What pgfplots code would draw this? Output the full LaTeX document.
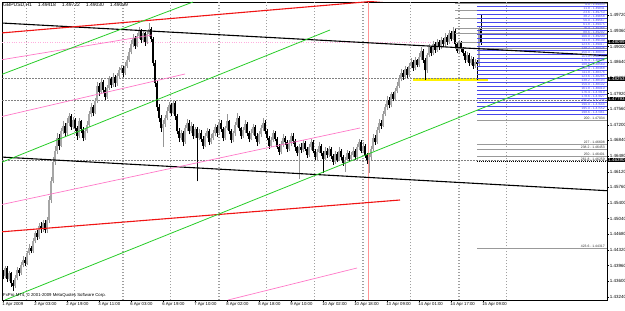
\documentclass[border=0pt]{standalone}
\usepackage{pgfplots}
\pgfplotsset{compat=1.18}
\usepackage{pgfplotstable}
\usepackage{fontspec}
\setmainfont{Liberation Sans}
\definecolor{mtblue}{RGB}{70,70,235}
\definecolor{mtgreen}{RGB}{40,205,40}
\definecolor{mtred}{RGB}{240,20,20}
\definecolor{mtpink}{RGB}{255,120,200}
\definecolor{mtvline}{RGB}{255,150,150}
\definecolor{mtup}{RGB}{150,150,150}
\newcommand\tf{\fontsize{4.3}{4.8}\selectfont}
\newcommand\yf{\fontsize{4.5}{5}\selectfont}

\pgfplotstableread{
i o h l c
0 1.4380 1.4386 1.4365 1.4372
1 1.4372 1.4396 1.4368 1.4390
2 1.4390 1.4395 1.4358 1.4366
3 1.4366 1.4384 1.4360 1.4378
4 1.4378 1.4382 1.4348 1.4355
5 1.4355 1.4362 1.4338 1.4350
6 1.4350 1.4374 1.4344 1.4368
7 1.4368 1.4392 1.4362 1.4385
8 1.4385 1.4390 1.4372 1.4379
9 1.4379 1.4404 1.4375 1.4398
10 1.4398 1.4418 1.4392 1.4410
11 1.4410 1.4415 1.4395 1.4402
12 1.4402 1.4430 1.4398 1.4425
13 1.4425 1.4445 1.4420 1.4437
14 1.4437 1.4442 1.4424 1.4430
15 1.4430 1.4460 1.4426 1.4452
16 1.4452 1.4476 1.4448 1.4470
17 1.4470 1.4478 1.4455 1.4462
18 1.4462 1.4494 1.4458 1.4488
19 1.4488 1.4496 1.4472 1.4480
20 1.4480 1.4502 1.4474 1.4495
21 1.4495 1.4500 1.4470 1.4478
22 1.4478 1.4508 1.4472 1.4500
23 1.4500 1.4556 1.4495 1.4548
24 1.4548 1.4600 1.4540 1.4590
25 1.4590 1.4645 1.4585 1.4635
26 1.4635 1.4672 1.4628 1.4660
27 1.4660 1.4700 1.4652 1.4690
28 1.4690 1.4698 1.4662 1.4672
29 1.4672 1.4712 1.4668 1.4705
30 1.4705 1.4728 1.4698 1.4718
31 1.4718 1.4725 1.4692 1.4700
32 1.4700 1.4735 1.4695 1.4725
33 1.4725 1.4748 1.4718 1.4740
34 1.4740 1.4745 1.4708 1.4715
35 1.4715 1.4738 1.4710 1.4730
36 1.4730 1.4735 1.4705 1.4712
37 1.4712 1.4718 1.4686 1.4695
38 1.4695 1.4735 1.4690 1.4728
39 1.4728 1.4732 1.4702 1.4710
40 1.4710 1.4715 1.4682 1.4690
41 1.4690 1.4712 1.4685 1.4705
42 1.4705 1.4728 1.4700 1.4720
43 1.4720 1.4752 1.4715 1.4745
44 1.4745 1.4770 1.4738 1.4760
45 1.4760 1.4766 1.4740 1.4748
46 1.4748 1.4782 1.4744 1.4775
47 1.4775 1.4818 1.4770 1.4810
48 1.4810 1.4815 1.4786 1.4795
49 1.4795 1.4826 1.4790 1.4818
50 1.4818 1.4822 1.4792 1.4800
51 1.4800 1.4806 1.4778 1.4785
52 1.4785 1.4812 1.4780 1.4805
53 1.4805 1.4832 1.4800 1.4825
54 1.4825 1.4830 1.4805 1.4812
55 1.4812 1.4838 1.4808 1.4830
56 1.4830 1.4835 1.4808 1.4815
57 1.4815 1.4840 1.4810 1.4832
58 1.4832 1.4852 1.4826 1.4845
59 1.4845 1.4858 1.4838 1.4850
60 1.4850 1.4855 1.4830 1.4838
61 1.4838 1.4864 1.4834 1.4856
62 1.4856 1.4878 1.4850 1.4870
63 1.4870 1.4896 1.4865 1.4888
64 1.4888 1.4914 1.4882 1.4905
65 1.4905 1.4928 1.4898 1.4920
66 1.4920 1.4925 1.4895 1.4902
67 1.4902 1.4932 1.4898 1.4925
68 1.4925 1.4944 1.4918 1.4935
69 1.4935 1.4940 1.4908 1.4915
70 1.4915 1.4938 1.4910 1.4930
71 1.4930 1.4934 1.4902 1.4910
72 1.4910 1.4936 1.4905 1.4928
73 1.4928 1.4955 1.4922 1.4940
74 1.4940 1.4945 1.4910 1.4918
75 1.4918 1.4922 1.4855 1.4862
76 1.4862 1.4868 1.4808 1.4815
77 1.4815 1.4820 1.4752 1.4760
78 1.4760 1.4768 1.4726 1.4735
79 1.4735 1.4742 1.4704 1.4712
80 1.4712 1.4730 1.4670 1.4722
81 1.4722 1.4742 1.4716 1.4735
82 1.4735 1.4760 1.4730 1.4752
83 1.4752 1.4772 1.4746 1.4765
84 1.4765 1.4770 1.4740 1.4748
85 1.4748 1.4778 1.4744 1.4770
86 1.4770 1.4774 1.4732 1.4740
87 1.4740 1.4745 1.4698 1.4705
88 1.4705 1.4712 1.4680 1.4690
89 1.4690 1.4708 1.4684 1.4700
90 1.4700 1.4705 1.4672 1.4680
91 1.4680 1.4720 1.4676 1.4712
92 1.4712 1.4734 1.4706 1.4725
93 1.4725 1.4730 1.4698 1.4705
94 1.4705 1.4726 1.4700 1.4718
95 1.4718 1.4722 1.4688 1.4695
96 1.4695 1.4716 1.4690 1.4710
97 1.4710 1.4714 1.4590 1.4690
98 1.4690 1.4710 1.4684 1.4702
99 1.4702 1.4708 1.4680 1.4688
100 1.4688 1.4694 1.4665 1.4672
101 1.4672 1.4702 1.4668 1.4695
102 1.4695 1.4712 1.4690 1.4705
103 1.4705 1.4710 1.4674 1.4680
104 1.4680 1.4698 1.4675 1.4690
105 1.4690 1.4708 1.4684 1.4700
106 1.4700 1.4722 1.4695 1.4715
107 1.4715 1.4720 1.4692 1.4700
108 1.4700 1.4732 1.4696 1.4725
109 1.4725 1.4730 1.4704 1.4710
110 1.4710 1.4714 1.4682 1.4690
111 1.4690 1.4718 1.4686 1.4712
112 1.4712 1.4745 1.4708 1.4728
113 1.4728 1.4732 1.4698 1.4705
114 1.4705 1.4710 1.4678 1.4685
115 1.4685 1.4706 1.4680 1.4700
116 1.4700 1.4726 1.4695 1.4720
117 1.4720 1.4748 1.4714 1.4735
118 1.4735 1.4740 1.4705 1.4712
119 1.4712 1.4716 1.4688 1.4695
120 1.4695 1.4715 1.4690 1.4708
121 1.4708 1.4730 1.4702 1.4722
122 1.4722 1.4726 1.4694 1.4700
123 1.4700 1.4706 1.4680 1.4688
124 1.4688 1.4710 1.4684 1.4702
125 1.4702 1.4722 1.4696 1.4715
126 1.4715 1.4720 1.4688 1.4695
127 1.4695 1.4700 1.4672 1.4680
128 1.4680 1.4705 1.4675 1.4698
129 1.4698 1.4720 1.4692 1.4712
130 1.4712 1.4735 1.4706 1.4725
131 1.4725 1.4730 1.4698 1.4705
132 1.4705 1.4710 1.4684 1.4690
133 1.4690 1.4695 1.4665 1.4672
134 1.4672 1.4692 1.4668 1.4685
135 1.4685 1.4708 1.4680 1.4700
136 1.4700 1.4705 1.4682 1.4688
137 1.4688 1.4692 1.4664 1.4670
138 1.4670 1.4675 1.4650 1.4658
139 1.4658 1.4682 1.4652 1.4675
140 1.4675 1.4698 1.4670 1.4690
141 1.4690 1.4695 1.4674 1.4680
142 1.4680 1.4685 1.4658 1.4665
143 1.4665 1.4685 1.4660 1.4678
144 1.4678 1.4702 1.4672 1.4695
145 1.4695 1.4700 1.4676 1.4682
146 1.4682 1.4688 1.4660 1.4668
147 1.4668 1.4672 1.4648 1.4655
148 1.4655 1.4676 1.4595 1.4670
149 1.4670 1.4678 1.4655 1.4662
150 1.4662 1.4685 1.4658 1.4678
151 1.4678 1.4682 1.4660 1.4665
152 1.4665 1.4670 1.4644 1.4650
153 1.4650 1.4675 1.4646 1.4668
154 1.4668 1.4688 1.4662 1.4680
155 1.4680 1.4684 1.4654 1.4660
156 1.4660 1.4665 1.4638 1.4645
157 1.4645 1.4665 1.4640 1.4658
158 1.4658 1.4680 1.4654 1.4672
159 1.4672 1.4676 1.4648 1.4655
160 1.4655 1.4660 1.4610 1.4642
161 1.4642 1.4668 1.4638 1.4660
162 1.4660 1.4666 1.4644 1.4650
163 1.4650 1.4672 1.4646 1.4665
164 1.4665 1.4670 1.4642 1.4648
165 1.4648 1.4652 1.4628 1.4635
166 1.4635 1.4660 1.4630 1.4652
167 1.4652 1.4658 1.4634 1.4640
168 1.4640 1.4668 1.4636 1.4660
169 1.4660 1.4665 1.4640 1.4645
170 1.4645 1.4650 1.4626 1.4632
171 1.4632 1.4646 1.4612 1.4640
172 1.4640 1.4662 1.4636 1.4655
173 1.4655 1.4660 1.4636 1.4642
174 1.4642 1.4658 1.4638 1.4650
175 1.4650 1.4668 1.4645 1.4660
176 1.4660 1.4665 1.4638 1.4645
177 1.4645 1.4675 1.4640 1.4668
178 1.4668 1.4688 1.4662 1.4680
179 1.4680 1.4685 1.4654 1.4660
180 1.4660 1.4680 1.4655 1.4672
181 1.4672 1.4676 1.4644 1.4650
182 1.4650 1.4655 1.4630 1.4638
183 1.4638 1.4652 1.4610 1.4645
184 1.4645 1.4672 1.4640 1.4665
185 1.4665 1.4698 1.4660 1.4690
186 1.4690 1.4696 1.4674 1.4680
187 1.4680 1.4716 1.4676 1.4708
188 1.4708 1.4734 1.4702 1.4725
189 1.4725 1.4732 1.4710 1.4718
190 1.4718 1.4752 1.4714 1.4745
191 1.4745 1.4768 1.4740 1.4760
192 1.4760 1.4786 1.4755 1.4778
193 1.4778 1.4784 1.4758 1.4765
194 1.4765 1.4796 1.4760 1.4790
195 1.4790 1.4795 1.4774 1.4780
196 1.4780 1.4805 1.4776 1.4798
197 1.4798 1.4818 1.4792 1.4810
198 1.4810 1.4834 1.4805 1.4825
199 1.4825 1.4848 1.4820 1.4840
200 1.4840 1.4846 1.4824 1.4830
201 1.4830 1.4855 1.4826 1.4848
202 1.4848 1.4852 1.4828 1.4835
203 1.4835 1.4862 1.4830 1.4855
204 1.4855 1.4874 1.4850 1.4865
205 1.4865 1.4870 1.4844 1.4850
206 1.4850 1.4875 1.4846 1.4868
207 1.4868 1.4872 1.4852 1.4858
208 1.4858 1.4884 1.4854 1.4875
209 1.4875 1.4898 1.4870 1.4890
210 1.4890 1.4895 1.4862 1.4870
211 1.4870 1.4874 1.4824 1.4845
212 1.4845 1.4886 1.4840 1.4880
213 1.4880 1.4906 1.4875 1.4898
214 1.4898 1.4902 1.4878 1.4885
215 1.4885 1.4912 1.4880 1.4905
216 1.4905 1.4910 1.4886 1.4892
217 1.4892 1.4918 1.4888 1.4910
218 1.4910 1.4915 1.4892 1.4898
219 1.4898 1.4922 1.4894 1.4915
220 1.4915 1.4920 1.4898 1.4905
221 1.4905 1.4930 1.4900 1.4922
222 1.4922 1.4926 1.4904 1.4910
223 1.4910 1.4938 1.4906 1.4930
224 1.4930 1.4935 1.4912 1.4918
225 1.4918 1.4946 1.4914 1.4935
226 1.4935 1.4940 1.4898 1.4905
227 1.4905 1.4910 1.4884 1.4890
228 1.4890 1.4915 1.4886 1.4908
229 1.4908 1.4912 1.4888 1.4895
230 1.4895 1.4900 1.4878 1.4885
231 1.4885 1.4890 1.4862 1.4870
232 1.4870 1.4888 1.4865 1.4880
233 1.4880 1.4884 1.4856 1.4862
234 1.4862 1.4878 1.4858 1.4872
235 1.4872 1.4876 1.4848 1.4855
236 1.4855 1.4872 1.4850 1.4865
237 1.4865 1.4870 1.4824 1.4860
238 1.4860 1.4945 1.4852 1.4940
239 1.4942 1.4972 1.4903 1.4910
}\bars

\pgfplotsset{candle/.style={only marks, mark=text, text mark={},
  restrict x to domain=-1:400,
  error bars/.cd, y dir=plus, y explicit, error mark=none}}

\begin{document}
\begin{tikzpicture}[x=1bp,y=1bp]
\fill[white] (-2,-10) rectangle (623,300);
\useasboundingbox (-2,-10) rectangle (623,300);
\begin{axis}[
  at={(0,0)}, anchor=south west,
  scale only axis, width=605bp, height=298bp,
  xmin=-0.5, xmax=302, ymin=1.4317, ymax=1.50024,
  axis line style={line width=0.5bp, black},
  xtick pos=left, ytick pos=right, yticklabel pos=right,
  tick align=outside, major tick length=2bp,
  tick style={line width=0.4bp, black},
  xtick={0,16,...,240},
  xticklabels={1 Apr 2009,2 Apr 03:00,2 Apr 19:00,3 Apr 11:00,6 Apr 03:00,6 Apr 19:00,7 Apr 10:00,8 Apr 02:00,8 Apr 18:00,9 Apr 10:00,10 Apr 02:00,10 Apr 18:00,13 Apr 09:00,14 Apr 01:00,14 Apr 17:00,15 Apr 09:00},
  xticklabel style={font=\tf, anchor=north west, xshift=-1.5bp, inner sep=0.6bp},
  ytick={1.4324,1.4360,1.4396,1.4432,1.4468,1.4504,1.4540,1.4576,1.4612,1.4648,1.4684,1.4720,1.4756,1.4792,1.4828,1.4864,1.4900,1.4936,1.4972},
  yticklabel style={font=\yf, anchor=west, inner sep=0.6bp,
    /pgf/number format/.cd, fixed, fixed zerofill, precision=5, 1000 sep={}},
  /pgf/number format/assume math mode=true,
  extra x ticks={11.5,35.5,59.5,60.2,83.5,107.5,108.2,131.5,155.5,179.5,180.2,203.5,227.5,228.2,251.5},
  extra x tick labels={},
  extra x tick style={grid=major, major tick length=0pt,
    major grid style={dash pattern=on 1.5bp off 1.5bp, gray!75, line width=0.4bp}},
]
% horizontal level lines
\addplot[mtpink!60, dotted, line width=0.4bp] coordinates {(-0.5,1.4910) (302,1.4910)};
\addplot[yellow, line width=3bp] coordinates {(205,1.4824) (242.5,1.4824)};
\addplot[gray, dash pattern=on 1.5bp off 1.5bp, line width=0.4bp] coordinates {(-0.5,1.4828) (302,1.4828)};
\addplot[gray, dash pattern=on 1.5bp off 1.5bp, line width=0.4bp] coordinates {(-0.5,1.4777) (302,1.4777)};
\addplot[gray, dash pattern=on 1.5bp off 1.5bp, line width=0.4bp] coordinates {(-0.5,1.4639) (302,1.4639)};
% vertical line
\addplot[mtvline, line width=0.9bp] coordinates {(182.5,1.4317) (182.5,1.50024)};

% candles: wicks and bodies
\addplot[mtup, candle, error bar style={line width=0.5bp, mtup}]
  table[x expr={ifthenelse(\thisrow{c}>\thisrow{o},\thisrow{i},-50)}, y=l,
        y error plus expr={\thisrow{h}-\thisrow{l}}] {\bars};
\addplot[black, candle, error bar style={line width=0.5bp, black}]
  table[x expr={ifthenelse(\thisrow{c}<\thisrow{o},\thisrow{i},-50)}, y=l,
        y error plus expr={\thisrow{h}-\thisrow{l}}] {\bars};
\addplot[mtup, candle, error bar style={line width=1.2bp, mtup!85}]
  table[x expr={ifthenelse(\thisrow{c}>\thisrow{o},\thisrow{i},-50)}, y=o,
        y error plus expr={\thisrow{c}-\thisrow{o}}] {\bars};
\addplot[black, candle, error bar style={line width=1.2bp, black}]
  table[x expr={ifthenelse(\thisrow{c}<\thisrow{o},\thisrow{i},-50)}, y=c,
        y error plus expr={\thisrow{o}-\thisrow{c}}] {\bars};

% Fibonacci levels
\pgfplotsinvokeforeach{1.50001,1.4984,1.49656,1.49426,1.4931,1.49104,1.48966}{
  \addplot[gray!80, line width=0.4bp] coordinates {(226,#1) (302,#1)};}
\pgfplotsinvokeforeach{1.49932,1.4984,1.49748,1.49656,1.49564,1.49472,1.4938,1.49288,1.49196,1.49104,1.49012,1.4892,1.48828,1.48736,1.48644,1.48552,1.4846,1.48368,1.48276,1.48184,1.48092,1.48,1.47908,1.47816,1.47724,1.47632,1.4754,1.47448}{
  \addplot[mtblue, line width=0.5bp] coordinates {(237,#1) (302,#1)};}
\pgfplotsinvokeforeach{1.4731,1.46758,1.46643,1.46482,1.44366}{
  \addplot[gray!80, line width=0.4bp] coordinates {(237,#1) (302,#1)};}
\addplot[black, dash pattern=on 1bp off 1bp, line width=0.4bp] coordinates {(237,1.46367) (302,1.46367)};

% trend lines
\addplot[black, line width=1.1bp] coordinates {(-0.5,1.4954) (302,1.4879)};
\addplot[black, line width=1.1bp] coordinates {(-0.5,1.46457) (302,1.45684)};
\addplot[mtred, line width=1.1bp] coordinates {(-0.5,1.49313) (190,1.50060)};
\addplot[mtred, line width=1.1bp] coordinates {(-0.5,1.44739) (198.5,1.4547)};
\addplot[mtpink, line width=0.7bp] coordinates {(-0.5,1.48697) (74.5,1.49265)};
\addplot[mtpink, line width=0.7bp] coordinates {(-0.5,1.47391) (91,1.48368)};
\addplot[mtpink, line width=0.7bp] coordinates {(-0.5,1.45367) (178.5,1.47126)};
\addplot[mtpink, line width=0.7bp] coordinates {(112.5,1.4317) (177,1.43906)};
\addplot[mtgreen, line width=0.8bp] coordinates {(-0.5,1.48361) (95,1.50024)};
\addplot[mtgreen, line width=0.8bp] coordinates {(-0.5,1.4634) (163.5,1.4938)};
\addplot[mtgreen, line width=0.8bp] coordinates {(1,1.4317) (302,1.48736)};
\end{axis}

% title and copyright
\node[anchor=west, font=\fontsize{5}{5.5}\selectfont, inner sep=0pt] at (1,295)
  {GBPUSD,H1\hspace{6bp}1.49418\hspace{6bp}1.49722\hspace{6bp}1.49030\hspace{6bp}1.49099};
\node[anchor=west, font=\tf, inner sep=0pt] at (1,5)
  {FxPro MT4, \textcopyright\ 2001-2009 MetaQuotes Software Corp.};

% fibonacci labels (blue)
\foreach \yy/\lv in {6/0.0,10/11.8,14/23.6,18/38.2,22/50.0,26/61.8,30/76.4,34/88.6,38/100.0,42/111.8,46/123.6,50/138.2,54/150.0,58/161.8,62/176.4,66/188.6,70/100.0,74/111.8,78/123.6,82/138.2,86/150.0,90/161.8,94/176.4,98/178.6,102/185.4,106/190.0,110/195.0,114/198.6}{
  \pgfmathsetmacro\pr{1.5007-0.00023*\yy}
  \node[anchor=south east, font=\fontsize{3.3}{3.6}\selectfont, text=mtblue, inner sep=0.15bp]
    at (603,{300-\yy+0.2}) {\lv\ - \pgfmathprintnumber[fixed,fixed zerofill,precision=5,assume math mode=true]{\pr}};
}
% fibonacci labels (grey)
\foreach \yy/\txt in {119/200 - 1.47034,143/227 - 1.46608,148/238.2 - 1.46453,155/250 - 1.46401,160/261.8 - 1.46259,247/423.6 - 1.44317}{
  \node[anchor=south east, font=\fontsize{3.4}{3.7}\selectfont, text=black!80, inner sep=0.15bp]
    at (603,{300-\yy-0.8}) {\txt};
}
% price boxes on the axis
\foreach \yy/\txt in {42/1.49099,79/1.48253,99/1.47793,160/1.46390}{
  \node[anchor=west, fill=black, text=white, font=\yf, inner sep=0.6bp] at (605.5,{300-\yy}) {\txt};
}
\end{tikzpicture}
\end{document}
